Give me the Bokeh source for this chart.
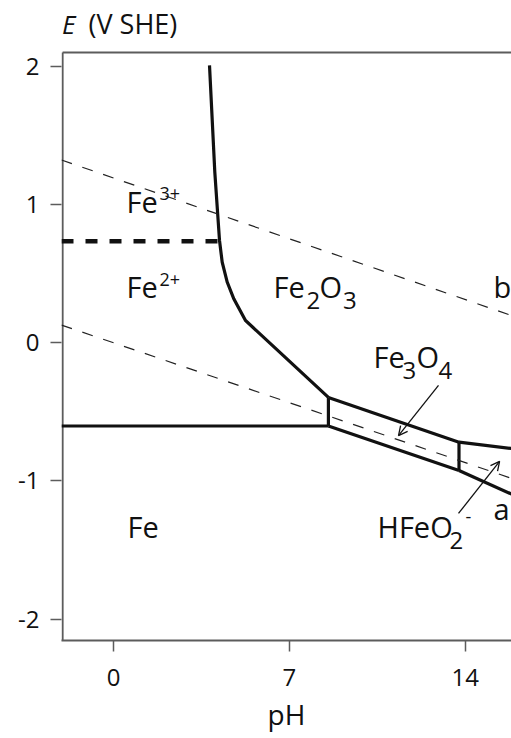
from bokeh.plotting import figure
from bokeh.models import Range1d, FixedTicker, Arrow, OpenHead, ColumnDataSource
from bokeh.core.properties import value
from bokeh.embed import file_html
from bokeh.resources import INLINE

FONT = "Open Sans"
INK = "#111111"
AXIS_GREY = "#5c5c5c"

# ---- plot window (pH, potential vs SHE) ----
ph_min, ph_max = -2.03, 15.84      # extent of the drawn diagram
e_min, e_max = -2.155, 2.103
view_ph_min = -2.074               # frame starts just left of the axis line
view_e_max = 2.479                 # frame extends up to hold the E title
ph_ticks = [0, 7, 14]
e_ticks = [-2, -1, 0, 1, 2]

# ---- stability boundaries ----
# Fe3+ / Fe2O3 and Fe2+ / Fe2O3 boundary (one continuous line)
oxide_ph = [3.818, 4.029, 4.216, 4.323, 4.522, 4.785, 5.251, 8.551]
oxide_E = [2.009, 1.236, 0.742, 0.584, 0.440, 0.319, 0.162, -0.395]

# Fe2+ / Fe3+ (dashed)
fe3_fe2_ph = [view_ph_min, 4.216]
fe3_fe2_E = [0.736, 0.736]

# Fe / Fe2+
fe_fe2_ph = [view_ph_min, 8.551]
fe_fe2_E = [-0.602, -0.602]

# Fe3O4 field boundaries
fe2o3_fe3o4_ph = [8.551, 13.75]
fe2o3_fe3o4_E = [-0.395, -0.719]
fe_fe3o4_ph = [8.551, 13.75]
fe_fe3o4_E = [-0.602, -0.924]
left_edge_ph = [8.551, 8.551]
left_edge_E = [-0.395, -0.602]
right_edge_ph = [13.75, 13.75]
right_edge_E = [-0.719, -0.924]

# HFeO2- field boundaries
fe3o4_hfeo2_ph = [13.75, ph_max]
fe3o4_hfeo2_E = [-0.719, -0.765]
fe_hfeo2_ph = [13.75, ph_max]
fe_hfeo2_E = [-0.924, -1.095]

# water stability lines a and b
water_ph = [view_ph_min, ph_max]
water_a_E = [0.129, -0.981]
water_b_E = [1.324, 0.198]

# ---- field labels, split into base text / subscripts / superscripts ----
main_text = ["Fe", "Fe", "Fe", "O", "Fe", "O", "Fe", "HFeO", "a", "b"]
main_x = [0.514, 0.514, 6.365, 8.196, 10.346, 12.058, 0.553, 10.506, 15.123, 15.123]
main_y = [0.944, 0.329, 0.329, 0.329, -0.180, -0.180, -1.409, -1.409, -1.279, 0.329]

sub_text = ["2", "3", "3", "4", "2"]
sub_x = [7.68, 9.13, 11.50, 12.93, 13.37]
sub_y = [0.242, 0.242, -0.265, -0.265, -1.496]

sup_text = ["3+", "2+", "-"]
sup_x = [1.827, 1.827, 14.011]
sup_y = [1.031, 0.408, -1.308]

# pointers from labels to narrow fields
arrow_x0 = [12.934, 13.730]
arrow_y0 = [-0.308, -1.235]
arrow_x1 = [11.342, 15.366]
arrow_y1 = [-0.671, -0.858]

p = figure(
    width=511, height=738, title=None,
    x_range=Range1d(view_ph_min, ph_max), y_range=Range1d(e_min, view_e_max),
    output_backend="svg", toolbar_location=None,
    min_border_left=61, min_border_right=0, min_border_top=0, min_border_bottom=98,
    background_fill_color="white", border_fill_color="white",
)
p.grid.visible = False
p.outline_line_color = None

for ax in (p.xaxis[0], p.yaxis[0]):
    ax.axis_line_color = AXIS_GREY
    ax.axis_line_width = 2
    ax.major_tick_line_color = AXIS_GREY
    ax.major_tick_line_width = 1.5
    ax.major_tick_in = 0
    ax.major_tick_out = 11
    ax.minor_tick_line_color = None
    ax.major_label_text_font = FONT
    ax.major_label_text_font_size = "24px"
    ax.major_label_text_color = INK

p.yaxis.axis_line_color = None          # drawn below so it stops at the top edge
p.xaxis.ticker = FixedTicker(ticks=ph_ticks)
p.yaxis.ticker = FixedTicker(ticks=e_ticks)
p.yaxis.major_label_overrides = {-2: "-2", -1: "-1"}
p.xaxis.major_label_standoff = 17
p.yaxis.major_label_standoff = 11
p.xaxis.axis_label = "pH"
p.xaxis.axis_label_text_font = FONT
p.xaxis.axis_label_text_font_size = "28px"
p.xaxis.axis_label_text_font_style = "normal"
p.xaxis.axis_label_text_color = INK
p.xaxis.axis_label_standoff = 6

# left and top edges of the diagram
p.line([ph_min, ph_min], [e_min - 0.05, e_max], line_color=AXIS_GREY, line_width=2)
p.line([ph_min, ph_max], [e_max, e_max], line_color=AXIS_GREY, line_width=2)

# boundaries
solid = dict(line_color=INK, line_width=3.2, line_join="miter")
p.line(oxide_ph, oxide_E, **solid)
p.line(fe_fe2_ph, fe_fe2_E, **solid)
p.line(fe2o3_fe3o4_ph, fe2o3_fe3o4_E, **solid)
p.line(fe_fe3o4_ph, fe_fe3o4_E, **solid)
p.line(left_edge_ph, left_edge_E, **solid)
p.line(right_edge_ph, right_edge_E, **solid)
p.line(fe3o4_hfeo2_ph, fe3o4_hfeo2_E, **solid)
p.line(fe_hfeo2_ph, fe_hfeo2_E, **solid)
p.line(fe3_fe2_ph, fe3_fe2_E, line_color=INK, line_width=4.5, line_dash="12 12")

# water lines
p.line(water_ph, water_a_E, line_color="#222222", line_width=1.2, line_dash="11 11")
p.line(water_ph, water_b_E, line_color="#222222", line_width=1.2, line_dash="11 11")

# field labels
common = dict(text_font=value(FONT), text_color=INK, text_align="left", text_baseline="alphabetic")
p.text(x=main_x, y=main_y, text=main_text, text_font_size=value("29px"), y_offset=-11, **common)
p.text(x=sub_x, y=sub_y, text=sub_text, text_font_size=value("24px"), y_offset=-9, **common)
p.text(x=sup_x, y=sup_y, text=sup_text, text_font_size=value("18px"), y_offset=-7, **common)

arrows = ColumnDataSource(dict(x0=arrow_x0, y0=arrow_y0, x1=arrow_x1, y1=arrow_y1))
p.add_layout(Arrow(end=OpenHead(size=9, line_width=1.3, line_color=INK),
                   x_start="x0", y_start="y0", x_end="x1", y_end="y1",
                   source=arrows, line_width=1.3, line_color=INK))

# potential axis title at the top left
p.text(x=[-2.054], y=[2.240], text=["E"], text_font_size=value("26px"),
       text_font_style="italic", y_offset=-10, **common)
p.text(x=[-0.999], y=[2.240], text=["(V SHE)"], text_font_size=value("27px"),
       y_offset=-10, **common)

open("out.html", "w").write(file_html(p, INLINE))
